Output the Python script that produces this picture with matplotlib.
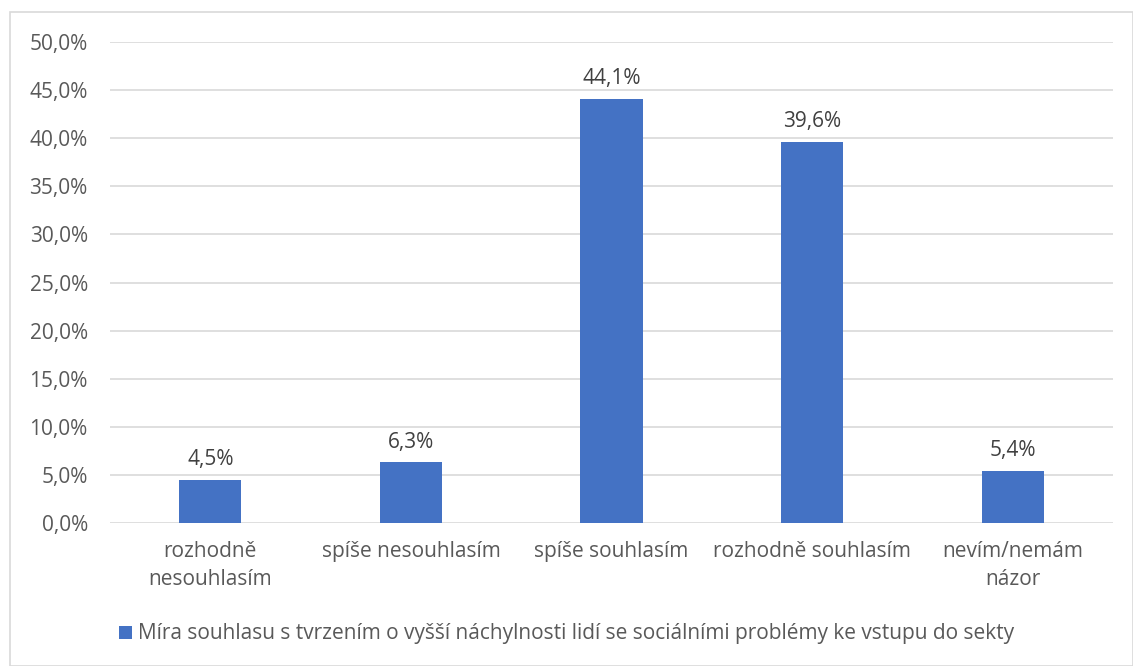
import matplotlib.pyplot as plt
from matplotlib.patches import Rectangle
from matplotlib.ticker import FuncFormatter

plt.rcParams['font.family'] = ['Open Sans', 'DejaVu Sans']

kategorie = ["rozhodně\nnesouhlasím", "spíše nesouhlasím", "spíše souhlasím",
             "rozhodně souhlasím", "nevím/nemám\nnázor"]
hodnoty = [4.5, 6.3, 44.1, 39.6, 5.4]
popisky = ["4,5%", "6,3%", "44,1%", "39,6%", "5,4%"]
nazev_rady = "Míra souhlasu s tvrzením o vyšší náchylnosti lidí se sociálními problémy ke vstupu do sekty"

barva = "#4472C4"
seda = "#595959"
fs = 15

fig = plt.figure(figsize=(11.33, 6.66), dpi=100)
fig.patches.append(Rectangle((10 / 1133, 0), 1123 / 1133, 654 / 666, transform=fig.transFigure,
                             fill=False, edgecolor="#d9d9d9", linewidth=1.2))

ax = fig.add_axes([110 / 1133, 1 - 523 / 666, 1003 / 1133, 481 / 666])
x = range(len(kategorie))
bars = ax.bar(x, hodnoty, width=0.31, color=barva, label=nazev_rady, zorder=2)

for b, t in zip(bars, popisky):
    ax.text(b.get_x() + b.get_width() / 2, b.get_height() + 1.0, t,
            ha="center", va="bottom", fontsize=fs, color="#404040")

ax.set_xlim(-0.5, len(kategorie) - 0.5)
ax.set_ylim(0, 50)
ax.set_yticks(range(0, 51, 5))
ax.yaxis.set_major_formatter(FuncFormatter(lambda v, p: f"{v:.1f}".replace(".", ",") + "%"))
ax.set_xticks(list(x))
ax.set_xticklabels(kategorie, linespacing=1.45)
ax.tick_params(axis="both", length=0, labelsize=fs, labelcolor=seda)
ax.tick_params(axis="x", pad=13)
ax.tick_params(axis="y", pad=16)
ax.grid(axis="y", color="#d9d9d9", linewidth=1.2, zorder=0)
for s in ax.spines.values():
    s.set_visible(False)

fig.legend(handles=[bars], labels=[nazev_rady], loc="center", bbox_to_anchor=(0.5, 1 - 634 / 666),
           frameon=False, fontsize=fs, labelcolor=seda, handlelength=0.6, handleheight=0.6,
           handletextpad=0.3)

fig.savefig("out.png", dpi=100)
